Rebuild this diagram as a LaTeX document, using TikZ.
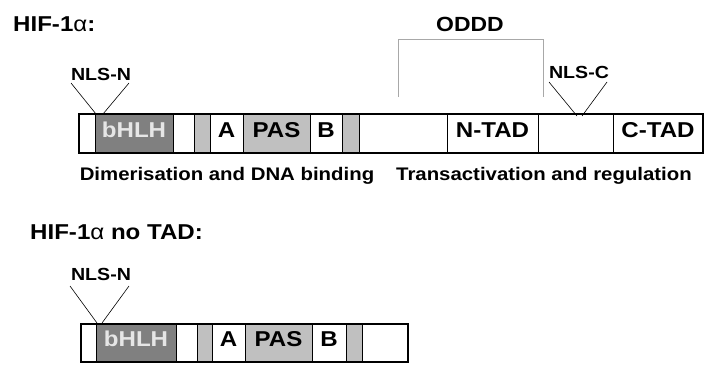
\documentclass[tikz,border=0pt]{standalone}
\usepackage{fontspec}
\setmainfont{Liberation Sans}
\newcommand{\sx}[1]{\scalebox{1.12}[1]{#1}}
\definecolor{dkgrey}{HTML}{808080}
\definecolor{ltgrey}{HTML}{C0C0C0}
\definecolor{brk}{HTML}{A8A8A8}
\definecolor{paletext}{HTML}{E6E6E6}
\tikzset{
  seg/.style={draw=black, line width=0.7pt, inner sep=0pt, text height=0.72em, text depth=0pt,
    font=\fontsize{21.5}{24}\selectfont\bfseries},
  titlelbl/.style={inner sep=0pt, anchor=base west, font=\fontsize{21.5}{24}\selectfont\bfseries},
  nlslbl/.style={inner sep=0pt, anchor=base, font=\fontsize{17.5}{20}\selectfont\bfseries},
  odddlbl/.style={inner sep=0pt, anchor=base, font=\fontsize{20.5}{23}\selectfont\bfseries},
  desclbl/.style={inner sep=0pt, anchor=base, font=\fontsize{18.2}{21}\selectfont\bfseries},
  nlsline/.style={line width=0.6pt, black},
  bracket/.style={line width=0.8pt, brk},
  outer/.style={line width=1.8pt, black},
}
\newcommand\mkseg[7]{%
  \pgfmathsetmacro\segcx{(#2+#3)/2}%
  \pgfmathsetmacro\segcy{(#4+#5)/2}%
  \pgfmathsetmacro\segw{#3-#2}%
  \pgfmathsetmacro\segh{#5-#4}%
  \node[seg, fill=#6, minimum width=\segw pt, minimum height=\segh pt] (#1) at (\segcx,\segcy) {#7};%
}
\begin{document}
\begin{tikzpicture}[x=1pt,y=-1pt]
\useasboundingbox (0,0) rectangle (708,368);

% ---- HIF-1alpha ----
\node[titlelbl] (t1) at (13,31) {\sx{HIF-1{\mdseries α}:}};

\mkseg{aw1}{79}{95}{114}{153}{white}{}
\mkseg{abhlh}{95}{173}{114}{153}{dkgrey}{\color{paletext}\sx{bHLH}}
\mkseg{aw2}{173}{194}{114}{153}{white}{}
\mkseg{ag1}{194}{210}{114}{153}{ltgrey}{}
\mkseg{aA}{210}{243}{114}{153}{white}{\sx{A}}
\mkseg{aPAS}{243}{310}{114}{153}{ltgrey}{\sx{PAS}}
\mkseg{aB}{310}{342}{114}{153}{white}{\sx{B}}
\mkseg{ag2}{342}{359}{114}{153}{ltgrey}{}
\mkseg{aw3}{359}{447}{114}{153}{white}{}
\mkseg{antad}{447}{538}{114}{153}{white}{\sx{N-TAD}}
\mkseg{aw4}{538}{613}{114}{153}{white}{}
\mkseg{actad}{613}{703}{114}{153}{white}{\sx{C-TAD}}
\draw[outer] (aw1.north west) rectangle (actad.south east);

% NLS-N (top)
\node[nlslbl] (nlsn1) at (101,80) {\sx{NLS-N}};
\coordinate (n1a) at (71,83);
\coordinate (n1b) at (96,114);
\coordinate (n1c) at (129,83);
\coordinate (n1d) at (103,114);
\draw[nlsline] (n1a) -- (n1b);
\draw[nlsline] (n1c) -- (n1d);

% NLS-C
\node[nlslbl] (nlsc) at (579,78) {\sx{NLS-C}};
\coordinate (c1a) at (549,82);
\coordinate (c1b) at (577,116);
\coordinate (c1c) at (607,82);
\coordinate (c1d) at (582,116);
\draw[nlsline] (c1a) -- (c1b);
\draw[nlsline] (c1c) -- (c1d);

% ODDD
\node[odddlbl] (oddd) at (470,31.5) {\sx{ODDD}};
\coordinate (odl) at (398,97);
\coordinate (odr) at (543,97);
\draw[bracket] (odl) -- ++(0,-58) -| (odr);

% descriptions
\node[desclbl] (dim) at (227,180.5) {\sx{Dimerisation and DNA binding}};
\node[desclbl] (trans) at (544,180.5) {\sx{Transactivation and regulation}};

% ---- HIF-1alpha no TAD ----
\node[titlelbl] (t2) at (30,239) {\sx{HIF-1{\mdseries α} no TAD:}};

\mkseg{bw1}{81}{96}{324}{362}{white}{}
\mkseg{bbhlh}{96}{176}{324}{362}{dkgrey}{\color{paletext}\sx{bHLH}}
\mkseg{bw2}{176}{197}{324}{362}{white}{}
\mkseg{bg1}{197}{212}{324}{362}{ltgrey}{}
\mkseg{bA}{212}{245}{324}{362}{white}{\sx{A}}
\mkseg{bPAS}{245}{312}{324}{362}{ltgrey}{\sx{PAS}}
\mkseg{bB}{312}{346}{324}{362}{white}{\sx{B}}
\mkseg{bg2}{346}{362}{324}{362}{ltgrey}{}
\mkseg{bw3}{362}{408}{324}{362}{white}{}
\draw[outer] (bw1.north west) rectangle (bw3.south east);

% NLS-N (bottom)
\node[nlslbl] (nlsn2) at (101,280) {\sx{NLS-N}};
\coordinate (n2a) at (70,286);
\coordinate (n2b) at (97,323);
\coordinate (n2c) at (129,286);
\coordinate (n2d) at (102,323);
\draw[nlsline] (n2a) -- (n2b);
\draw[nlsline] (n2c) -- (n2d);
\end{tikzpicture}
\end{document}
